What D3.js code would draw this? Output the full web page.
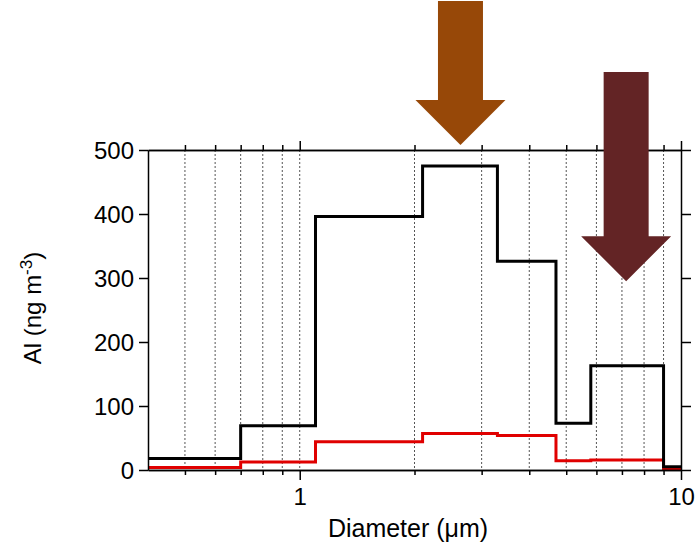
<!DOCTYPE html>
<html>
<head>
<meta charset="utf-8">
<script src="https://cdn.jsdelivr.net/npm/d3@7"></script>
<style>
  body { margin: 0; background: #fff; }
  text { font-family: "Liberation Sans", Arial, sans-serif; fill: #000; }
</style>
</head>
<body>
<svg id="chart"></svg>
<script>
// bin edges (diameter, um) and concentrations per bin
const edges = [0.4, 0.7, 1.1, 2.1, 3.3, 4.7, 5.8, 9.0, 10];
const totalAl = [18, 69, 396, 475, 326, 73, 163, 5];
const solubleAl = [4, 12.5, 44, 57, 54, 14.5, 15.5, 2];
const yTicks = [0, 100, 200, 300, 400, 500];
const xMajor = [1, 10];
const xMinor = [0.5, 0.6, 0.7, 0.8, 0.9, 2, 3, 4, 5, 6, 7, 8, 9];
// arrows: centre diameter, top value, tip value
const arrows = [
  { d: 2.64, top: 733, tip: 508, color: '#974808' },
  { d: 7.18, top: 622, tip: 295, color: '#632425' },
];

const width = 699;
const height = 549;
const margin = { top: 150, right: 18, bottom: 79, left: 148 };
const w = width - margin.left - margin.right;
const h = height - margin.top - margin.bottom;

const svg = d3.select('#chart')
    .attr('width', width)
    .attr('height', height)
  .append('g')
    .attr('transform', `translate(${margin.left},${margin.top})`);

const x = d3.scaleLog().domain([0.4, 10]).range([0, w]);
const y = d3.scaleLinear().domain([0, 500]).range([h, 0]);

// dotted grid
svg.selectAll('.grid')
    .data(xMinor.concat([1]))
  .enter().append('line')
    .attr('x1', d => x(d)).attr('x2', d => x(d))
    .attr('y1', 0).attr('y2', h)
    .attr('stroke', '#555')
    .attr('stroke-width', 1)
    .attr('stroke-dasharray', '2,2');

function steps(vals) {
  return edges.map((e, i) => [e, i < vals.length ? vals[i] : vals[vals.length - 1]]);
}

const line = d3.line()
  .x(d => x(d[0]))
  .y(d => y(d[1]))
  .curve(d3.curveStepAfter);

svg.append('path')
    .datum(steps(solubleAl))
    .attr('d', line)
    .attr('fill', 'none')
    .attr('stroke', '#e00000')
    .attr('stroke-width', 3);

svg.append('path')
    .datum(steps(totalAl))
    .attr('d', line)
    .attr('fill', 'none')
    .attr('stroke', '#000')
    .attr('stroke-width', 3);

// axes
const axisStyle = g => {
  g.select('.domain').attr('stroke', '#000').attr('stroke-width', 1.5);
  g.selectAll('.tick line').attr('stroke', '#000').attr('stroke-width', 1.5);
  g.selectAll('text').style('font-size', '24px').style('font-family', '"Liberation Sans", Arial, sans-serif');
};

svg.append('g')
    .call(d3.axisLeft(y).tickValues(yTicks).tickSize(9).tickPadding(5).tickSizeOuter(0))
    .call(axisStyle)
    .selectAll('text').attr('dy', '0.36em');

svg.append('g')
    .attr('transform', `translate(${w},0)`)
    .call(d3.axisRight(y).tickValues(yTicks).tickSize(10).tickFormat('').tickSizeOuter(0))
    .call(axisStyle);

svg.append('g')
    .attr('transform', `translate(0,${h})`)
    .call(d3.axisBottom(x).tickValues(xMajor).tickSize(10).tickPadding(8)
      .tickFormat(d3.format('d')).tickSizeOuter(0))
    .call(axisStyle);

svg.append('g')
    .attr('transform', `translate(0,${h})`)
    .call(d3.axisBottom(x).tickValues(xMinor).tickSize(5).tickFormat('').tickSizeOuter(0))
    .call(axisStyle);

svg.append('g')
    .call(d3.axisTop(x).tickValues(xMajor).tickSize(9).tickFormat('').tickSizeOuter(0))
    .call(axisStyle);

svg.append('g')
    .call(d3.axisTop(x).tickValues(xMinor).tickSize(5).tickFormat('').tickSizeOuter(0))
    .call(axisStyle);

// axis titles
svg.append('text')
    .attr('x', 260)
    .attr('y', h + 67)
    .attr('text-anchor', 'middle')
    .style('font-size', '25px')
    .text('Diameter (\u03bcm)');

const yl = svg.append('text')
    .attr('transform', `translate(${-107},${h / 2 - 2}) rotate(-90)`)
    .attr('text-anchor', 'middle')
    .style('font-size', '24px');
yl.append('tspan').text('Al (ng m');
yl.append('tspan').attr('dy', '-9').style('font-size', '17px').text('-3');
yl.append('tspan').attr('dy', '9').text(')');

// arrows
const shaft = 22.5, head = 45, headH = 45;
svg.selectAll('.arrow')
    .data(arrows)
  .enter().append('path')
    .attr('fill', d => d.color)
    .attr('d', d => {
      const cx = x(d.d), t = y(d.top), tip = y(d.tip), b = tip - headH;
      return `M${cx - shaft},${t}L${cx + shaft},${t}L${cx + shaft},${b}L${cx + head},${b}` +
        `L${cx},${tip}L${cx - head},${b}L${cx - shaft},${b}Z`;
    });
</script>
</body>
</html>
